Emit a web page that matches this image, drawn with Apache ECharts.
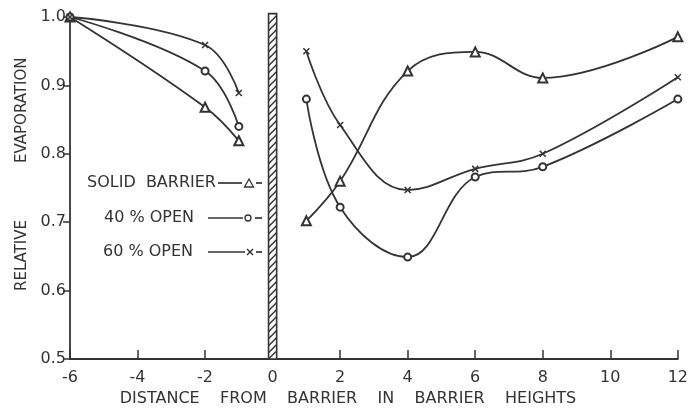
<!DOCTYPE html>
<html><head><meta charset="utf-8">
<script src="https://cdn.jsdelivr.net/npm/echarts@6/dist/echarts.min.js"></script>
<style>html,body{margin:0;padding:0;background:#fff}#c{width:691px;height:412px}</style>
</head><body><div id="c"></div>
<script>
// Distances (barrier heights)
const xLeft = [-6, -2, -1];
const xRight = [1, 2, 4, 6, 8, 12];
// Relative evaporation, windward side
const solidLeft = [1.0, 0.868, 0.819];
const open40Left = [1.0, 0.921, 0.840];
const open60Left = [1.0, 0.959, 0.889];
// Relative evaporation, leeward side
const solidRight = [0.702, 0.760, 0.921, 0.949, 0.911, 0.971];
const open40Right = [0.880, 0.722, 0.649, 0.766, 0.781, 0.880];
const open60Right = [0.950, 0.842, 0.747, 0.778, 0.800, 0.912];
const xTicks = [-6, -4, -2, 0, 2, 4, 6, 8, 10, 12];
const yTicks = [0.5, 0.6, 0.7, 0.8, 0.9, 1.0];
const barrier = [-0.12, 0.12, 0.5, 1.005];

const INK = '#333';
const FONT = 'DejaVu Sans';
const X_SYM = 'path://M0,0L10,10M10,0L0,10';

function pair(xs, ys) { return xs.map((x, i) => [x, ys[i]]); }
function lineSeries(xs, ys, sym, size) {
  return {
    type: 'line', data: pair(xs, ys), smooth: 0.4,
    symbol: sym, symbolSize: size, showSymbol: true,
    lineStyle: { color: INK, width: 1.8 },
    itemStyle: { color: INK, borderColor: INK, borderWidth: sym === X_SYM ? 1.5 : 1.4 },
    z: 3, animation: false
  };
}
function seg(x1, y1, x2, y2, w) {
  return { type: 'line', shape: { x1: x1, y1: y1, x2: x2, y2: y2 }, style: { stroke: INK, lineWidth: w || 1.7 } };
}

const chart = echarts.init(document.getElementById('c'), null, { renderer: 'canvas' });
chart.setOption({
  animation: false,
  backgroundColor: '#fff',
  grid: { left: 70, right: 10, top: 17, bottom: 53 },
  xAxis: {
    type: 'value', min: -6, max: 12, interval: 2,
    axisLine: { show: true, onZero: false, lineStyle: { color: INK, width: 1.8 } },
    axisTick: { show: true, inside: true, length: 9, lineStyle: { color: INK, width: 1.5 } },
    axisLabel: { color: INK, fontFamily: FONT, fontSize: 16, margin: 11,
      formatter: v => xTicks.includes(v) ? String(v) : '' },
    splitLine: { show: false }
  },
  yAxis: {
    type: 'value', min: 0.5, max: 1.0, interval: 0.1,
    axisLine: { show: true, onZero: false, lineStyle: { color: INK, width: 1.8 } },
    axisTick: { show: true, inside: false, length: 7, lineStyle: { color: INK, width: 1.5 } },
    axisLabel: { color: INK, fontFamily: FONT, fontSize: 16, margin: 4,
      formatter: v => yTicks.some(t => Math.abs(t - v) < 1e-6) ? v.toFixed(1) : '' },
    splitLine: { show: false }
  },
  series: [
    {
      type: 'custom', z: 2, silent: true,
      data: [barrier],
      renderItem: function (params, api) {
        const p0 = api.coord([api.value(0), api.value(3)]);
        const p1 = api.coord([api.value(1), api.value(2)]);
        const x0 = p0[0], y0 = p0[1], x1 = p1[0], y1 = p1[1];
        const w = x1 - x0;
        const children = [{ type: 'rect', shape: { x: x0, y: y0, width: w, height: y1 - y0 },
          style: { fill: '#fff', stroke: INK, lineWidth: 1.6 } }];
        const step = 7;
        for (let y = y0 + 2; y < y1 - 1; y += step) {
          const yb = Math.min(y + w, y1);
          children.push({ type: 'line', shape: { x1: x0, y1: yb, x2: x0 + (yb - y), y2: y },
            style: { stroke: INK, lineWidth: 1.4 } });
        }
        return { type: 'group', children: children };
      }
    },
    lineSeries(xLeft, solidLeft, 'emptyTriangle', 9),
    lineSeries(xLeft, open40Left, 'emptyCircle', 7),
    lineSeries(xLeft, open60Left, X_SYM, 6),
    lineSeries(xRight, solidRight, 'emptyTriangle', 9),
    lineSeries(xRight, open40Right, 'emptyCircle', 7),
    lineSeries(xRight, open60Right, X_SYM, 6)
  ],
  graphic: [
    { type: 'text', x: 15, y: 163, rotation: Math.PI / 2,
      style: { text: 'EVAPORATION', fill: INK, font: '15px "DejaVu Sans"', verticalAlign: 'top' } },
    { type: 'text', x: 15, y: 291, rotation: Math.PI / 2,
      style: { text: 'RELATIVE', fill: INK, font: '15px "DejaVu Sans"', verticalAlign: 'top' } },
    { type: 'text', x: 348, y: 399,
      style: { text: 'DISTANCE    FROM    BARRIER    IN    BARRIER    HEIGHTS', fill: INK,
        font: '16px "DejaVu Sans"', align: 'center', verticalAlign: 'middle' } },
    // legend
    { type: 'text', x: 87, y: 183, style: { text: 'SOLID  BARRIER', fill: INK, font: '16px "DejaVu Sans"', verticalAlign: 'middle' } },
    seg(218, 183, 242, 183),
    { type: 'polygon', shape: { points: [[249, 179], [253.5, 187], [244.5, 187]] }, style: { fill: '#fff', stroke: INK, lineWidth: 1.3 } },
    seg(256, 183, 262, 183),

    { type: 'text', x: 104, y: 218, style: { text: '40 % OPEN', fill: INK, font: '16px "DejaVu Sans"', verticalAlign: 'middle' } },
    seg(208, 218, 243, 218),
    { type: 'circle', shape: { cx: 248, cy: 218, r: 3 }, style: { fill: '#fff', stroke: INK, lineWidth: 1.3 } },
    seg(255, 218, 262, 218),

    { type: 'text', x: 103, y: 252, style: { text: '60 % OPEN', fill: INK, font: '16px "DejaVu Sans"', verticalAlign: 'middle' } },
    seg(208, 252, 245, 252),
    seg(247, 249, 253, 255, 1.4),
    seg(253, 249, 247, 255, 1.4),
    seg(256, 252, 262, 252)
  ]
});
</script></body></html>
